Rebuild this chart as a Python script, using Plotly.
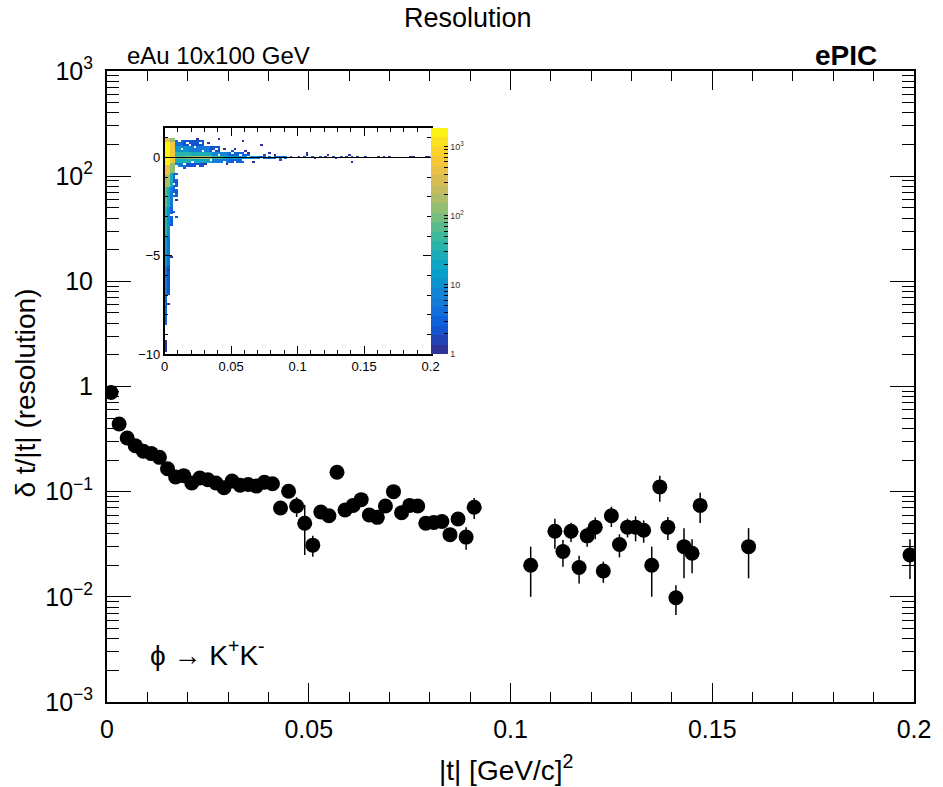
import numpy as np
import plotly.graph_objects as go

# |t| bin centres and the resolution in each bin (main panel)
t_centers = [0.001, 0.003, 0.005, 0.007, 0.009, 0.011, 0.013, 0.015, 0.017, 0.019,
             0.021, 0.023, 0.025, 0.027, 0.029, 0.031, 0.033, 0.035, 0.037, 0.039,
             0.041, 0.043, 0.045, 0.047, 0.049, 0.051, 0.053, 0.055, 0.057, 0.059,
             0.061, 0.063, 0.065, 0.067, 0.069, 0.071, 0.073, 0.075, 0.077, 0.079,
             0.081, 0.083, 0.085, 0.087, 0.089, 0.091,
             0.105, 0.111, 0.113, 0.115, 0.117, 0.119, 0.121, 0.123, 0.125, 0.127,
             0.129, 0.131, 0.133, 0.135, 0.137, 0.139, 0.141, 0.143, 0.145, 0.147,
             0.159, 0.199]
resolution = [0.877, 0.440, 0.324, 0.274, 0.242, 0.230, 0.212, 0.165, 0.138, 0.142,
              0.121, 0.135, 0.130, 0.121, 0.109, 0.126, 0.115, 0.117, 0.113, 0.123,
              0.119, 0.070, 0.101, 0.073, 0.050, 0.031, 0.064, 0.059, 0.153, 0.067,
              0.074, 0.084, 0.060, 0.057, 0.073, 0.100, 0.063, 0.074, 0.073, 0.050,
              0.051, 0.052, 0.039, 0.055, 0.037, 0.071,
              0.020, 0.042, 0.027, 0.042, 0.019, 0.038, 0.046, 0.0176, 0.059, 0.0315,
              0.046, 0.046, 0.043, 0.020, 0.111, 0.046, 0.0098, 0.030, 0.026, 0.074,
              0.030, 0.025]
resolution_err = [0.020, 0.010, 0.008, 0.006, 0.005, 0.005, 0.005, 0.004, 0.004, 0.004,
                  0.004, 0.004, 0.004, 0.004, 0.004, 0.004, 0.004, 0.004, 0.004, 0.004,
                  0.004, 0.005, 0.008, 0.0155, 0.025, 0.007, 0.005, 0.005, 0.008, 0.005,
                  0.005, 0.006, 0.005, 0.005, 0.005, 0.008, 0.005, 0.005, 0.005, 0.005,
                  0.004, 0.004, 0.004, 0.006, 0.009, 0.016,
                  0.010, 0.0133, 0.0077, 0.0087, 0.0056, 0.008, 0.0108, 0.004, 0.0129, 0.0078,
                  0.0093, 0.0123, 0.0103, 0.010, 0.031, 0.0113, 0.0031, 0.015, 0.0092, 0.0237,
                  0.015, 0.0102]

y_tick_vals = [0.001, 0.01, 0.1, 1, 10, 100, 1000]
y_tick_text = ["10<sup>\u22123</sup>", "10<sup>\u22122</sup>", "10<sup>\u22121</sup>", "1", "10",
               "10<sup>2</sup>", "10<sup>3</sup>"]
x_tick_vals = [0, 0.05, 0.1, 0.15, 0.2]
x_tick_text = ["0", "0.05", "0.1", "0.15", "0.2"]

# inset: 2D histogram of delta-t vs |t|, read off as blocks of similar counts
# (t from, t to, delta from, delta to, counts)
block_t0 = [0.000, 0.004, 0.000, 0.004, 0.000, 0.004, 0.000, 0.004, 0.000, 0.002,
            0.004, 0.000, 0.002, 0.000, 0.002, 0.000, 0.002, 0.000, 0.000,
            0.006, 0.004,
            0.008, 0.016, 0.024, 0.036, 0.044, 0.056, 0.070,
            0.008, 0.020, 0.036, 0.048,
            0.008, 0.020, 0.036, 0.048,
            0.008, 0.018, 0.034,
            0.008, 0.014,
            0.008, 0.016]
block_t1 = [0.004, 0.008, 0.004, 0.008, 0.004, 0.008, 0.004, 0.006, 0.002, 0.004,
            0.006, 0.002, 0.004, 0.002, 0.004, 0.002, 0.004, 0.002, 0.002,
            0.010, 0.006,
            0.016, 0.024, 0.036, 0.044, 0.056, 0.070, 0.092,
            0.020, 0.036, 0.048, 0.064,
            0.020, 0.036, 0.048, 0.060,
            0.018, 0.034, 0.042,
            0.014, 0.030,
            0.016, 0.030]
block_d0 = [-0.4, -0.3, 0.8, 0.8, -0.9, -0.8, -1.5, -1.5, -2.5, -2.5,
            -2.5, -4.0, -4.0, -5.5, -5.5, -7.0, -7.0, -8.5, -9.9,
            -2.0, -3.5,
            -0.1, -0.1, -0.1, -0.1, -0.1, -0.1, -0.1,
            0.1, 0.1, 0.1, 0.1,
            -0.3, -0.3, -0.3, -0.3,
            0.3, 0.3, 0.3,
            0.6, 0.6,
            -0.5, -0.5]
block_d1 = [0.8, 0.8, 1.0, 1.0, -0.4, -0.3, -0.9, -0.8, -1.5, -1.5,
            -1.5, -2.5, -2.5, -4.0, -4.0, -5.5, -5.5, -7.0, -9.3,
            -0.8, -2.5,
            0.1, 0.1, 0.1, 0.1, 0.1, 0.1, 0.1,
            0.3, 0.3, 0.3, 0.3,
            -0.1, -0.1, -0.1, -0.1,
            0.6, 0.6, 0.6,
            0.9, 0.9,
            -0.3, -0.3]
block_counts = [1700, 700, 400, 150, 500, 150, 200, 30, 80, 30,
                5, 35, 10, 15, 4, 6, 2, 3, 1,
                3, 3,
                80, 120, 160, 50, 20, 10, 4,
                40, 25, 8, 3,
                30, 20, 6, 3,
                10, 5, 2,
                4, 2,
                6, 2]

# isolated filled cells outside the blocks
cell_t = [0.095, 0.101, 0.105, 0.107, 0.111, 0.113, 0.117, 0.121, 0.123, 0.127,
          0.129, 0.133, 0.137, 0.139, 0.141, 0.145, 0.151, 0.161, 0.165, 0.169,
          0.185, 0.187, 0.197, 0.199, 0.107, 0.141,
          0.025, 0.041, 0.059, 0.073, 0.015, 0.031, 0.053, 0.079, 0.087,
          0.045, 0.051, 0.063, 0.067, 0.075, 0.083, 0.089, 0.047, 0.061, 0.033,
          0.009, 0.009, 0.009, 0.009, 0.007, 0.005, 0.005, 0.003, 0.003]
cell_d = [0.05, 0.05, 0.05, 0.15, 0.05, -0.05, 0.05, 0.05, 0.15, 0.05,
          -0.05, 0.05, 0.05, 0.15, 0.05, 0.05, 0.05, 0.05, 0.05, 0.05,
          0.05, 0.05, 0.05, 0.05, 0.25, -0.25,
          0.95, 0.95, 0.85, 0.65, -0.55, -0.35, 0.45, 0.25, -0.15,
          0.45, 0.35, 0.25, -0.25, 0.15, 0.15, 0.05, -0.35, 0.35, 0.75,
          -1.25, -1.75, -2.15, -3.05, -2.75, -3.45, -5.05, -5.75, -7.45]
cell_counts = [2, 1, 2, 1, 2, 1, 2, 1, 1, 2,
               1, 2, 1, 1, 2, 1, 1, 1, 1, 1,
               1, 1, 1, 1, 1, 1,
               1, 1, 1, 1, 2, 1, 1, 1, 2,
               1, 2, 1, 1, 2, 1, 2, 1, 1, 1,
               2, 2, 1, 2, 2, 2, 1, 1, 1]

# empty cells inside the sparse fringes of the blocks
hole_t = [0.011, 0.019, 0.027, 0.029, 0.039, 0.013, 0.023, 0.041, 0.051, 0.057,
          0.061, 0.053, 0.073, 0.081, 0.085, 0.009, 0.025, 0.015, 0.021, 0.045,
          0.063, 0.077, 0.089, 0.031, 0.037, 0.017, 0.035, 0.059,
          0.009, 0.007, 0.009, 0.007, 0.005, 0.009]
hole_d = [0.85, 0.65, 0.75, 0.35, 0.45, 0.45, 0.55, 0.15, 0.25, 0.15,
          0.25, -0.25, -0.05, 0.05, -0.05, -0.45, -0.45, -0.35, -0.25, -0.25,
          0.05, 0.05, -0.05, 0.65, 0.35, 0.75, -0.15, -0.15,
          -1.05, -1.35, -1.55, -1.85, -2.95, -0.95]

cbar_tick_text = ["1", "10", "10<sup>2</sup>", "10<sup>3</sup>"]
ref_delta = 0.0

FONT = "Liberation Sans, Arial, sans-serif"

BIRD = [(0.000, (0.2082, 0.1664, 0.5293)), (0.125, (0.0592, 0.3599, 0.8684)),
        (0.250, (0.0780, 0.5041, 0.8385)), (0.375, (0.0232, 0.6419, 0.7914)),
        (0.500, (0.1802, 0.7178, 0.6425)), (0.625, (0.5301, 0.7492, 0.4662)),
        (0.750, (0.8186, 0.7328, 0.3499)), (0.875, (0.9956, 0.7862, 0.1968)),
        (1.000, (0.9764, 0.9832, 0.0539))]

# plot frame in pixels: left, right, top, bottom
FRAME = (107, 920, 71, 702)


def bird_color(f):
    for (f0, c0), (f1, c1) in zip(BIRD[:-1], BIRD[1:]):
        if f <= f1:
            w = (f - f0) / (f1 - f0)
            rgb = [int(round(255 * (a + w * (b - a)))) for a, b in zip(c0, c1)]
            return "rgb(%d,%d,%d)" % tuple(rgb)
    return "rgb(249,251,14)"


def stepped_scale(n_steps):
    scale = []
    for i in range(n_steps):
        col = bird_color((i + 0.5) / n_steps)
        scale.append([i / n_steps, col])
        scale.append([(i + 1) / n_steps, col])
    return scale


def px_to_paper(px, py):
    left, right, top, bottom = FRAME
    return (px - left) / (right - left), (bottom - py) / (bottom - top)


def build_hist():
    t_edges = np.linspace(0.0, 0.2, 101)
    d_edges = np.linspace(-10.0, 1.5, 116)
    t_mid = 0.5 * (t_edges[:-1] + t_edges[1:])
    d_mid = 0.5 * (d_edges[:-1] + d_edges[1:])
    counts = np.zeros((len(d_mid), len(t_mid)))
    for t0, t1, d0, d1, c in zip(block_t0, block_t1, block_d0, block_d1, block_counts):
        sel_t = (t_mid > t0) & (t_mid < t1)
        sel_d = (d_mid > d0) & (d_mid < d1)
        counts[np.ix_(sel_d, sel_t)] = c
    for t, d in zip(hole_t, hole_d):
        counts[np.argmin(abs(d_mid - d)), np.argmin(abs(t_mid - t))] = 0
    for t, d, c in zip(cell_t, cell_d, cell_counts):
        counts[np.argmin(abs(d_mid - d)), np.argmin(abs(t_mid - t))] = c
    z = np.where(counts > 0, np.log10(np.maximum(counts, 1)), np.nan)
    return t_mid, d_mid, z


def generate_figure():
    fig = go.Figure()

    fig.add_trace(go.Scatter(
        x=t_centers, y=resolution, mode="markers",
        marker=dict(color="black", size=15, symbol="circle"),
        error_y=dict(type="data", array=resolution_err, color="black",
                     thickness=1.5, width=0),
        showlegend=False, xaxis="x", yaxis="y"))

    # inset frame and colour bar placement (pixels of the reference)
    in_x0, in_y1 = px_to_paper(165, 128)
    in_x1, in_y0 = px_to_paper(433, 354)

    t_mid, d_mid, z = build_hist()
    zmax = np.log10(1850)
    cbar_vals = [np.log10(m * 10 ** e) for e in range(0, 4) for m in range(1, 10)
                 if m * 10 ** e <= 1850]
    cbar_text = []
    for v in cbar_vals:
        if abs(v - round(v)) < 1e-9:
            cbar_text.append(cbar_tick_text[int(round(v))])
        else:
            cbar_text.append(" ")
    fig.add_trace(go.Heatmap(
        x=t_mid, y=d_mid, z=z, zmin=0, zmax=zmax,
        colorscale=stepped_scale(24), xaxis="x2", yaxis="y2",
        hoverongaps=False,
        colorbar=dict(x=in_x1, xanchor="left", y=in_y0, yanchor="bottom",
                      len=in_y1 - in_y0, lenmode="fraction", thickness=17,
                      outlinewidth=0, ticks="inside", ticklen=4,
                      tickcolor="black", tickvals=cbar_vals, ticktext=cbar_text,
                      tickfont=dict(size=9, family=FONT, color="#333"),
                      xpad=0, ypad=0)))

    fig.add_shape(type="line", xref="x2", yref="y2", x0=0, x1=0.2,
                  y0=ref_delta, y1=ref_delta, line=dict(color="black", width=1.2))

    axis_common = dict(showgrid=False, zeroline=False, showline=True,
                       linecolor="black", linewidth=2, mirror="allticks",
                       ticks="inside", tickcolor="black")
    inset_common = dict(showgrid=False, zeroline=False, showline=True,
                        linecolor="black", linewidth=1.5, mirror="allticks",
                        ticks="inside", tickcolor="black", ticklen=8,
                        tickfont=dict(size=13))

    left, right, top, bottom = FRAME
    fig.update_layout(
        width=943, height=787,
        margin=dict(l=left, r=943 - right, t=top, b=787 - bottom),
        paper_bgcolor="white", plot_bgcolor="white",
        font=dict(family=FONT, color="black"),
        xaxis=dict(range=[0, 0.2], tickvals=x_tick_vals, ticktext=x_tick_text,
                   ticklen=19, tickwidth=1, tickfont=dict(size=25),
                   ticklabelstandoff=4,
                   minor=dict(ticks="inside", ticklen=10, dtick=0.01,
                              tickcolor="black", showgrid=False),
                   **axis_common),
        yaxis=dict(type="log", range=[-3, 3], tickvals=y_tick_vals,
                   ticktext=y_tick_text, ticklen=24, tickwidth=1,
                   tickfont=dict(size=25), ticklabelstandoff=7,
                   minor=dict(ticks="inside", ticklen=12, dtick="D1",
                              tickcolor="black", showgrid=False),
                   **axis_common),
        xaxis2=dict(domain=[in_x0, in_x1], anchor="y2", range=[0, 0.2],
                    tickvals=x_tick_vals, ticktext=x_tick_text,
                    minor=dict(ticks="inside", ticklen=4, dtick=0.01,
                               tickcolor="black", showgrid=False),
                    **inset_common),
        yaxis2=dict(domain=[in_y0, in_y1], anchor="x2", range=[-10, 1.5],
                    tickvals=[-10, -5, 0], ticktext=["\u221210", "\u22125", "0"],
                    minor=dict(ticks="inside", ticklen=4, dtick=1,
                               tickcolor="black", showgrid=False),
                    **inset_common),
    )

    # texts: (text, pixel x, pixel y, size, xanchor, angle)
    texts = [
        ("Resolution", 471, 18, 27, "center", 0),
        ("eAu 10x100 GeV", 125, 55, 24, "left", 0),
        ("<b>ePIC</b>", 885, 55, 28, "right", 0),
        ("\u03b4 t/|t| (resolution)", 25, 393, 28, "center", -90),
        ("|t| [GeV/c]<sup>2</sup>", 509, 768, 28, "center", 0),
        ("\u03d5 \u2192 K<sup>+</sup>K<sup>-</sup>", 148, 653, 28, "left", 0),
    ]
    annotations = []
    for text, px, py, size, anchor, angle in texts:
        xp, yp = px_to_paper(px, py)
        annotations.append(dict(text=text, x=xp, y=yp, xref="paper", yref="paper",
                                xanchor=anchor, yanchor="middle", textangle=angle,
                                font=dict(size=size), showarrow=False))
    fig.update_layout(annotations=annotations)
    return fig


def main():
    fig = generate_figure()
    fig.write_html("out.html", config={"displayModeBar": False},
                   post_script="document.body.style.margin = '0px';")


if __name__ == '__main__':
    main()
